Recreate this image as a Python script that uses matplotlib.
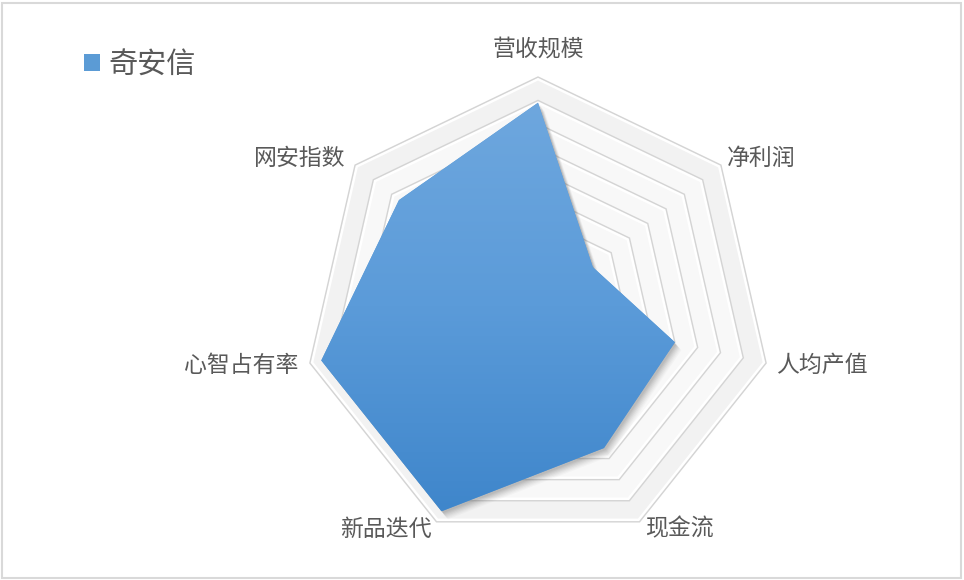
import numpy as np
import matplotlib
matplotlib.use("Agg")
import matplotlib.pyplot as plt
from matplotlib.patches import Polygon, Rectangle, Patch
from matplotlib.colors import LinearSegmentedColormap

plt.rcParams['font.family'] = ['Noto Sans CJK SC', 'DejaVu Sans']

categories = ['营收规模', '净利润', '人均产值', '现金流', '新品迭代', '心智占有率', '网安指数']
series_name = '奇安信'
values = [0.89, 0.30, 0.60, 0.65, 0.95, 0.95, 0.76]
ring_levels = [0.1, 0.2, 0.3, 0.4, 0.5, 0.6, 0.7, 0.8, 0.9, 1.0]

W, H = 964, 580
CX, CY, R = 538, 311, 234

fig = plt.figure(figsize=(W / 100, H / 100), dpi=100)
ax = fig.add_axes([0, 0, 1, 1])
ax.set_xlim(-CX / R, (W - CX) / R)
ax.set_ylim(-(H - CY) / R, CY / R)
ax.axis('off')

n = len(categories)
theta = np.arange(n) * 2 * np.pi / n


def xy(r, th):
    r = np.asarray(r, dtype=float)
    return r * np.sin(th), r * np.cos(th)


px = 1.0 / R  # one pixel in data units

# radar rings (beveled look)
for lv in ring_levels[::-1]:
    x, y = xy(np.full(n, lv), theta)
    fc = '#f2f2f2' if lv == 1.0 else '#f8f8f8'
    ax.add_patch(Polygon(np.c_[x, y], closed=True, fc=fc, ec='none', zorder=1))
    xi, yi = xy(np.full(n, lv - 2.2 * px), theta)
    ax.add_patch(Polygon(np.c_[xi, yi], closed=True, fc='none', ec='white', lw=1.8, zorder=2))
    ax.add_patch(Polygon(np.c_[x, y], closed=True, fc='none', ec='#d4d4d4', lw=1.0, zorder=2))

# data polygon
dx, dy = xy(values, theta)
pts = np.c_[dx, dy]

# soft shadow
for off, a in [(8, 0.035), (7, 0.045), (6, 0.055), (5, 0.065), (4, 0.075), (3, 0.085), (2, 0.09)]:
    sp = pts + np.array([off * px * 0.8, -off * px])
    ax.add_patch(Polygon(sp, closed=True, fc='#5a5a5a', ec='none', alpha=a, zorder=3))

base = Polygon(pts, closed=True, fc='#5b9bd5', ec='none', zorder=4, label=series_name)
ax.add_patch(base)

cmap = LinearSegmentedColormap.from_list('g', ['#3f86cb', '#5b9bd9', '#6ea7de'])
grad = np.linspace(0, 1, 256).reshape(-1, 1)
im = ax.imshow(grad, cmap=cmap, origin='lower', aspect='auto',
               extent=[dx.min(), dx.max(), dy.min(), dy.max()], zorder=5,
               interpolation='bilinear')
im.set_clip_path(base)
ax.set_xlim(-CX / R, (W - CX) / R)
ax.set_ylim(-(H - CY) / R, CY / R)

# category labels
label_color = '#595959'
fs = 16.5
label_specs = [
    (538, 49, 'center'),
    (727, 158, 'left'),
    (776, 365, 'left'),
    (645, 529, 'left'),
    (432, 529, 'right'),
    (298, 365, 'right'),
    (345, 158, 'right'),
]
for cat, (lx, ly, ha) in zip(categories, label_specs):
    ax.text((lx - CX) / R, (CY - ly) / R, cat, ha=ha, va='center',
            fontsize=fs, color=label_color, zorder=6)

# legend
ax.legend(handles=[Patch(fc='#5b9bd5', ec='none', label=series_name)],
          loc='center left', bbox_to_anchor=(72 / W, 1 - 65 / H),
          bbox_transform=fig.transFigure, frameon=False,
          fontsize=21, handlelength=0.55, handleheight=0.55, handletextpad=0.3,
          labelcolor=label_color, borderaxespad=0)

# chart border
fig.patches.append(Rectangle((2 / W, 2 / H), (W - 5) / W, (H - 5) / H,
                             transform=fig.transFigure, fill=False,
                             ec='#d9d9d9', lw=1.5))

fig.savefig('out.png', dpi=100, facecolor='white')
